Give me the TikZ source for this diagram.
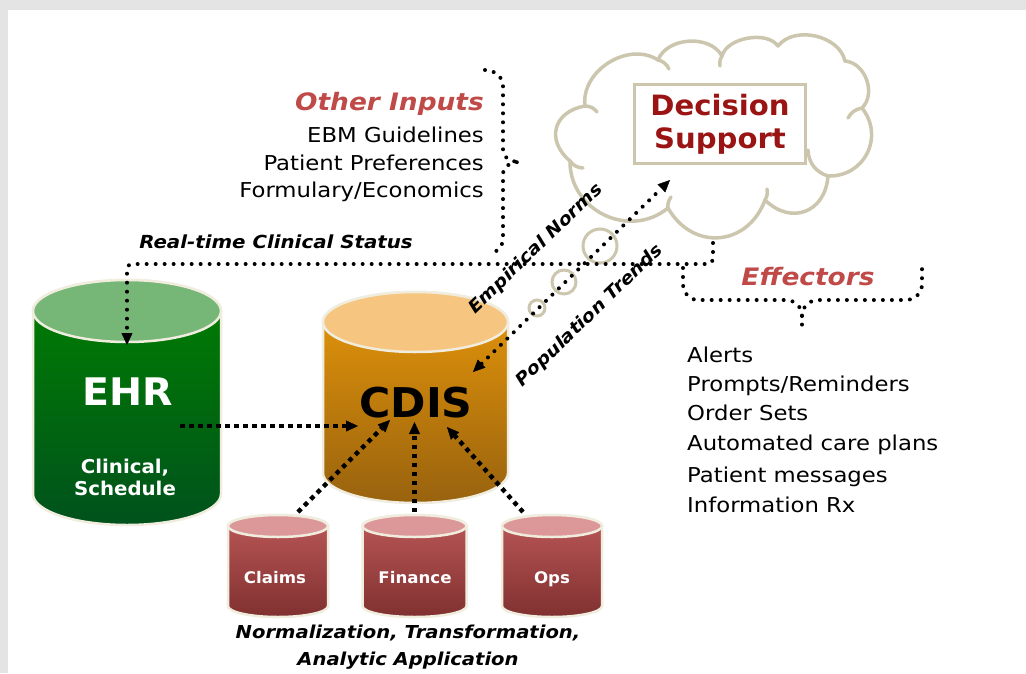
\documentclass[tikz,border=0pt]{standalone}
\usepackage{fontspec}
\setmainfont{DejaVu Sans}[FakeStretch=1.11]
\newfontfamily\bfam{DejaVu Sans}[FakeStretch=1.04]
\newfontfamily\bifam{DejaVu Sans}[FakeStretch=1.1]
\usetikzlibrary{arrows.meta}

\definecolor{framegray}{RGB}{228,228,228}
\definecolor{tan}{RGB}{204,198,174}
\definecolor{inred}{RGB}{192,74,72}
\definecolor{dsred}{RGB}{155,20,20}
\definecolor{rim}{RGB}{240,236,222}
\definecolor{ehrtop}{RGB}{118,182,118}
\definecolor{ehrhi}{RGB}{0,128,0}
\definecolor{ehrlo}{RGB}{0,82,28}
\definecolor{cdistop}{RGB}{246,198,128}
\definecolor{cdishi}{RGB}{232,152,10}
\definecolor{cdislo}{RGB}{152,98,14}
\definecolor{dbtop}{RGB}{220,152,152}
\definecolor{dbhi}{RGB}{188,88,88}
\definecolor{dblo}{RGB}{128,48,48}

\newcommand{\fsz}[2]{\fontsize{#1}{#2}\selectfont}

% database cylinder: centre x, top y, bottom y, half width, end radius,
% top fill, upper body colour, lower body colour
\newcommand{\dbcyl}[8]{%
  \path[draw=rim, line width=2.5pt, top color=#7, bottom color=#8]
    (#1-#4,#2) -- (#1-#4,#3)
    arc[start angle=180, end angle=360, x radius=#4pt, y radius=#5pt]
    -- (#1+#4,#2)
    arc[start angle=0, end angle=180, x radius=#4pt, y radius=#5pt] -- cycle;
  \path[draw=rim, line width=2.5pt, fill=#6]
    (#1,#2) ellipse[x radius=#4pt, y radius=#5pt];
}

\tikzset{
  dotline/.style={line width=4pt, line cap=round, dash pattern=on 0pt off 9pt},
  feedline/.style={line width=4.5pt, dash pattern=on 4.5pt off 4.5pt},
  headend/.style={-{Triangle[length=12pt,width=11pt,line width=0.4pt]}},
  bothends/.style={{Triangle[length=12pt,width=11pt,line width=0.4pt]}-{Triangle[length=12pt,width=11pt,line width=0.4pt]}},
  lbl/.style={inner sep=0pt},
  bubble/.style={draw=tan, line width=3pt},
  cloudline/.style={draw=tan, line width=3.5pt, line join=round, line cap=round},
  puffto/.style={bend left=65, looseness=#1},
}

\begin{document}
\begin{tikzpicture}[x=1pt,y=-1pt]
% page frame
\fill[framegray] (0,0) rectangle (1026,673);
\fill[white] (8,10) rectangle (1026,673);
\useasboundingbox (0,0) rectangle (1026,673);

% decision support cloud: outer puffs
\filldraw[cloudline, fill=white] (570,161)
  to[puffto=1.44] (585,106)
  to[puffto=1.05] (658,60)
  to[puffto=0.99] (722,56)
  to[puffto=0.86] (778,46)
  to[puffto=0.98] (845,61)
  to[puffto=1.05] (862,108)
  to[puffto=1.23] (828,176)
  to[puffto=1.39] (765,200)
  to[puffto=1.31] (668,208)
  to[puffto=1.17] (570,161) -- cycle;
% puff edges running on inside the cloud
\draw[cloudline] (585,106) to[bend left=25] (597,112);
\draw[cloudline] (658,60) to[bend left=25] (669,69);
\draw[cloudline] (722,56) to[bend right=20] (720,66);
\draw[cloudline] (862,108) to[bend right=25] (848,118);
\draw[cloudline] (828,176) to[bend left=35] (808,150);
\draw[cloudline] (765,200) to[bend right=20] (767,189);
\draw[cloudline] (668,208) to[bend left=20] (671,197);
\draw[cloudline] (570,161) to[bend right=25] (583,168);

\node[draw=tan, line width=3.5pt, fill=white, minimum width=171pt,
      minimum height=79pt, align=center, text=dsred,
      font=\fsz{28}{33}\bfam\bfseries] (ds) at (720,124) {Decision\\Support};

% databases
\dbcyl{127}{311}{494}{94}{31}{ehrtop}{ehrhi}{ehrlo}
\dbcyl{415.5}{322}{473}{92.5}{30}{cdistop}{cdishi}{cdislo}
\dbcyl{278}{526}{606}{50}{11}{dbtop}{dbhi}{dblo}
\dbcyl{414.5}{526}{606}{52}{11}{dbtop}{dbhi}{dblo}
\dbcyl{552}{526}{606}{50}{11}{dbtop}{dbhi}{dblo}

\node[lbl, anchor=base, text=white, font=\fsz{38}{40}\bfam\bfseries] (ehr) at (128,405) {EHR};
\node[lbl, anchor=base, text=white, font=\fsz{19}{22}\bfam\bfseries] (ehrsub1) at (125,473) {Clinical,};
\node[lbl, anchor=base, text=white, font=\fsz{19}{22}\bfam\bfseries] (ehrsub2) at (125,495) {Schedule};
\node[lbl, anchor=base, font=\fsz{41}{44}\bfam\bfseries] (cdis) at (416,417) {CDIS};
\node[lbl, anchor=base, text=white, font=\fsz{16}{18}\bfam\bfseries] (claims) at (275,583) {Claims};
\node[lbl, anchor=base, text=white, font=\fsz{16}{18}\bfam\bfseries] (finance) at (415,583) {Finance};
\node[lbl, anchor=base, text=white, font=\fsz{16}{18}\bfam\bfseries] (ops) at (552,583) {Ops};

\node[lbl, anchor=base, font=\fsz{17.8}{22}\bifam\bfseries\itshape] (cap1) at (408,638) {Normalization, Transformation,};
\node[lbl, anchor=base, font=\fsz{17.8}{22}\bifam\bfseries\itshape] (cap2) at (408,665) {Analytic Application};

% other inputs
\node[lbl, anchor=base east, text=inred, font=\fsz{24}{28}\bifam\bfseries\itshape] (oin) at (484,110) {Other Inputs};
\node[lbl, anchor=base east, font=\fsz{20.5}{24}] (oin1) at (484,142) {EBM Guidelines};
\node[lbl, anchor=base east, font=\fsz{20.5}{24}] (oin2) at (484,170) {Patient Preferences};
\node[lbl, anchor=base east, font=\fsz{20.5}{24}] (oin3) at (484,197) {Formulary/Economics};

\node[lbl, anchor=base, font=\fsz{18}{20}\bifam\bfseries\itshape] (rt) at (276,248) {Real-time Clinical Status};

% effectors
\node[lbl, anchor=base, text=inred, font=\fsz{24}{28}\bifam\bfseries\itshape] (eff) at (808,285) {Effectors};
\node[lbl, anchor=base west, font=\fsz{20.5}{24}] (e1) at (687,362) {Alerts};
\node[lbl, anchor=base west, font=\fsz{20.5}{24}] (e2) at (687,391) {Prompts/Reminders};
\node[lbl, anchor=base west, font=\fsz{20.5}{24}] (e3) at (687,420) {Order Sets};
\node[lbl, anchor=base west, font=\fsz{20.5}{24}] (e4) at (687,450) {Automated care plans};
\node[lbl, anchor=base west, font=\fsz{20.5}{24}] (e5) at (687,482) {Patient messages};
\node[lbl, anchor=base west, font=\fsz{20.5}{24}] (e6) at (687,512) {Information Rx};

% connector end points
\coordinate (cloudfoot) at (713,243);
\coordinate (ehrtopin) at (127,345);
\coordinate (ehrout) at (180,426);
\coordinate (cdisleft) at (358,426);
\coordinate (claimsout) at (298,512);
\coordinate (cdisclaims) at (390,420);
\coordinate (financeout) at (414.5,512);
\coordinate (cdisfin) at (414.5,422);
\coordinate (opsout) at (523,512);
\coordinate (cdisops) at (447,427);
\coordinate (cdisne) at (473,372);
\coordinate (dssw) at (670,180);

% thought bubbles
\draw[bubble] (537,308) circle[radius=8pt];
\draw[bubble] (564,282) circle[radius=12pt];
\draw[bubble] (600,246) circle[radius=17pt];

% flows
\draw[dotline, headend, rounded corners=5pt] (cloudfoot) -- ++(0,21) -| (ehrtopin);
\draw[dotline, bothends] (cdisne) -- (dssw);
\draw[feedline, headend] (ehrout) -- (cdisleft);
\draw[feedline, headend] (claimsout) -- (cdisclaims);
\draw[feedline, headend] (financeout) -- (cdisfin);
\draw[feedline, headend] (opsout) -- (cdisops);

% braces
\draw[dotline] (485,70) to[out=0,in=90] (503,86) -- (503,150)
  to[out=-90,in=180] (520,162) to[out=180,in=90] (503,174) -- (503,238)
  to[out=-90,in=0] (490,253);
\draw[dotline] (683,268) -- (683,284) to[out=-90,in=180] (698,300) -- (786,300)
  to[out=0,in=90] (802,316) -- (802,330);
\draw[dotline] (802,316) to[out=90,in=180] (818,300) -- (906,300)
  to[out=0,in=-90] (922,284) -- (922,268);

% rotated flow labels
\node[lbl, rotate=44, font=\fsz{17.5}{20}\bifam\bfseries\itshape] (norms) at (536,249) {Empirical Norms};
\node[lbl, rotate=44, font=\fsz{17.5}{20}\bifam\bfseries\itshape] (trends) at (590,316) {Population Trends};
\end{tikzpicture}
\end{document}
